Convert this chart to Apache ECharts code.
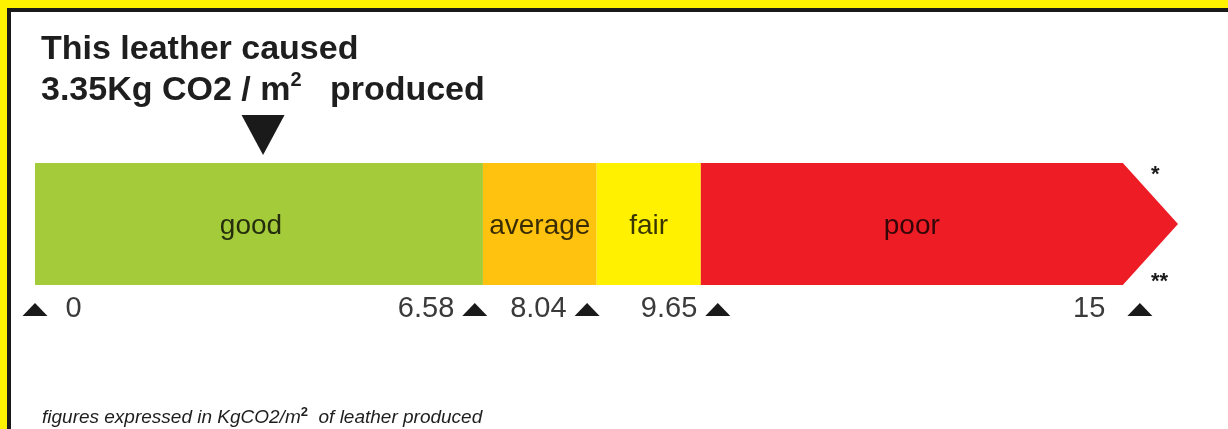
<!DOCTYPE html>
<html>
<head>
<meta charset="utf-8">
<script src="https://cdn.jsdelivr.net/npm/echarts@6/dist/echarts.min.js"></script>
<style>
html,body{margin:0;padding:0;background:#ffffff;}
#chart{width:1228px;height:429px;}
</style>
</head>
<body>
<div id="chart"></div>
<script>
// ---- data ----
const leatherValue = 3.35;                           // kg CO2 / m2 for this leather
const bandNames = ['good', 'average', 'fair', 'poor'];
const bandEnds = [6.58, 8.25, 9.78, 15.98];          // band ends as drawn (scale of the 'good' band)
const arrowTip = 16.79;                              // tip of the 'poor' arrow
const tickLabels = ['0', '6.58', '8.04', '9.65', '15'];
const tickMarks = [0, 6.46, 8.11, 10.03, 16.23];     // where the little triangles sit
const unitNote = 'figures expressed in KgCO2/m';

// ---- styles ----
const bandColors = ['#a4cb3a', '#fec20f', '#fff100', '#ee1d25'];
const FONT = '"Liberation Sans", Arial, Helvetica, sans-serif';

const bandData = bandNames.map((n, i) => [i === 0 ? 0 : bandEnds[i - 1], bandEnds[i], i]);

const chart = echarts.init(document.getElementById('chart'), null, {renderer: 'canvas'});

const option = {
  backgroundColor: '#ffffff',
  animation: false,
  title: [
    {
      left: 36, top: 24,
      text: 'This leather caused\n' + leatherValue.toFixed(2) + 'Kg CO2 / m{sup|2}   produced',
      textStyle: {
        fontFamily: FONT, fontSize: 34, fontWeight: 'bold', color: '#1e1e1e', lineHeight: 41,
        rich: {
          sup: {fontFamily: FONT, fontSize: 20, fontWeight: 'bold', color: '#1e1e1e', verticalAlign: 'top', lineHeight: 20}
        }
      }
    },
    {
      left: 37, top: 401,
      text: unitNote + '{sup|2}  of leather produced',
      textStyle: {
        fontFamily: FONT, fontSize: 19, fontStyle: 'italic', fontWeight: 'normal', color: '#1e1e1e', lineHeight: 23,
        rich: {
          sup: {fontFamily: FONT, fontSize: 13, fontWeight: 'bold', fontStyle: 'normal', color: '#1e1e1e', verticalAlign: 'top', lineHeight: 13}
        }
      }
    }
  ],
  grid: {left: 35, right: 50, top: 163, bottom: 144, containLabel: false},
  xAxis: {type: 'value', min: 0, max: arrowTip, show: false},
  yAxis: {type: 'value', min: 0, max: 1, show: false},
  series: [
    {
      type: 'custom',
      data: bandData,
      clip: false,
      renderItem: function (params, api) {
        const s = api.value(0), e = api.value(1), idx = api.value(2);
        const tl = api.coord([s, 1]);
        const br = api.coord([e, 0]);
        let points;
        if (idx === bandNames.length - 1) {
          const tip = api.coord([arrowTip, 0.5]);
          points = [tl, [br[0], tl[1]], tip, br, [tl[0], br[1]]];
        } else {
          points = [tl, [br[0], tl[1]], br, [tl[0], br[1]]];
        }
        return {
          type: 'group',
          children: [
            {type: 'polygon', shape: {points: points}, style: {fill: bandColors[idx], stroke: null}},
            {
              type: 'text',
              x: (tl[0] + br[0]) / 2 - (idx === 0 ? 8 : 0),
              y: (tl[1] + br[1]) / 2 + 2,
              style: {
                text: bandNames[idx], font: '28px ' + FONT,
                fill: 'rgba(0,0,0,0.78)', align: 'center', verticalAlign: 'middle'
              }
            }
          ]
        };
      }
    },
    {
      type: 'scatter',
      clip: false,
      symbol: 'triangle',
      symbolRotate: 180,
      symbolSize: [43, 40],
      itemStyle: {color: '#1a1a1a', opacity: 1},
      data: [[leatherValue, 1.23]]
    },
    {
      type: 'scatter',
      clip: false,
      symbol: 'triangle',
      symbolSize: [25, 13],
      itemStyle: {color: '#1a1a1a', opacity: 1},
      data: tickMarks.map((v, i) => ({
        value: [v, -0.2],
        label: {
          show: true,
          formatter: tickLabels[i],
          position: i === 0 ? 'right' : 'left',
          distance: i === 0 ? 18 : (i === tickMarks.length - 1 ? 22 : 8),
          fontFamily: FONT, fontSize: 29, color: '#3a3a3a'
        }
      }))
    }
  ],
  graphic: [
    {type: 'rect', left: 0, top: 0, shape: {width: 1228, height: 8}, style: {fill: '#fff200'}, silent: true},
    {type: 'rect', left: 0, top: 0, shape: {width: 7, height: 429}, style: {fill: '#fff200'}, silent: true},
    {type: 'rect', left: 7, top: 8, shape: {width: 1221, height: 4}, style: {fill: '#1a1a1a'}, silent: true},
    {type: 'rect', left: 7, top: 8, shape: {width: 4, height: 421}, style: {fill: '#1a1a1a'}, silent: true},
    {type: 'text', left: 1151, top: 164, style: {text: '*', font: 'bold 22px ' + FONT, fill: '#1a1a1a'}},
    {type: 'text', left: 1151, top: 271, style: {text: '**', font: 'bold 22px ' + FONT, fill: '#1a1a1a'}}
  ]
};
chart.setOption(option);
</script>
</body>
</html>
